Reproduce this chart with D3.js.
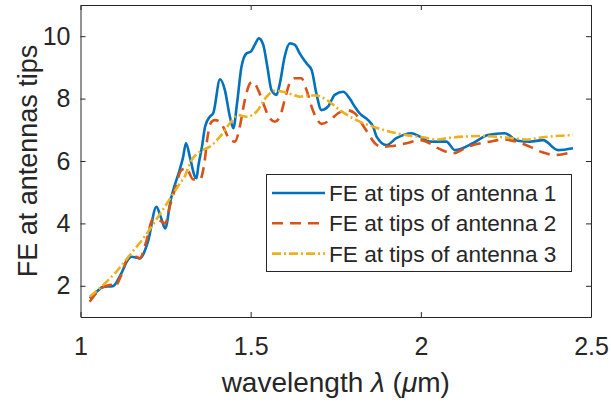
<!DOCTYPE html>
<html><head><meta charset="utf-8">
<script src="https://cdn.jsdelivr.net/npm/d3@7"></script>
<style>body{margin:0;background:#fff}svg{display:block}text{font-family:"Liberation Sans",Arial,sans-serif;fill:#262626}</style>
</head><body>
<script>
const seriesNames = ["FE at tips of antenna 1","FE at tips of antenna 2","FE at tips of antenna 3"];
const xTicks = [1, 1.5, 2, 2.5];
const yTicks = [2, 4, 6, 8, 10];
const x1 = [1.027,1.051,1.066,1.095,1.12,1.139,1.15,1.174,1.198,1.223,1.236,1.249,1.265,1.277,1.291,1.301,1.31,1.322,1.336,1.341,1.346,1.357,1.366,1.38,1.39,1.41,1.424,1.439,1.449,1.46,1.473,1.488,1.5,1.512,1.524,1.537,1.549,1.561,1.576,1.586,1.6,1.615,1.63,1.644,1.664,1.679,1.693,1.708,1.727,1.747,1.772,1.791,1.806,1.82,1.845,1.86,1.87,1.899,1.928,1.972,1.997,2.026,2.075,2.1,2.153,2.197,2.246,2.285,2.32,2.359,2.403,2.447];
const y1 = [1.6,1.84,1.97,1.99,2.4,2.83,2.93,2.88,3.41,4.53,4.2,3.84,4.75,5.23,5.7,6.1,6.57,6.1,5.5,5.45,5.82,6.46,7.1,7.42,7.53,8.62,8.28,7.42,7.05,7.85,9.02,9.45,9.5,9.72,9.93,9.72,9.02,8.28,8.12,8.5,9.35,9.77,9.72,9.45,9.13,8.92,8.17,7.63,7.74,8.12,8.22,8.0,7.74,7.53,7.31,7.1,6.78,6.51,6.73,6.89,6.78,6.62,6.62,6.35,6.57,6.83,6.89,6.65,6.62,6.67,6.35,6.41];
const x2 = [1.027,1.061,1.09,1.1,1.12,1.139,1.164,1.174,1.193,1.213,1.232,1.249,1.262,1.277,1.296,1.311,1.331,1.351,1.366,1.372,1.385,1.395,1.41,1.424,1.439,1.454,1.468,1.483,1.498,1.506,1.522,1.537,1.551,1.571,1.586,1.6,1.615,1.63,1.649,1.664,1.679,1.693,1.708,1.733,1.757,1.782,1.806,1.826,1.845,1.865,1.884,1.918,1.958,1.997,2.026,2.05,2.095,2.139,2.202,2.241,2.281,2.32,2.359,2.398,2.447];
const y2 = [1.49,1.92,2.03,1.97,2.35,2.88,2.93,2.88,3.41,4.16,4.1,4.0,4.53,5.07,5.7,5.77,5.41,5.41,6.1,6.67,7.26,7.31,7.26,6.99,6.67,6.62,7.1,7.96,8.49,8.54,8.28,7.85,7.47,7.26,7.42,7.96,8.5,8.65,8.65,8.28,7.74,7.37,7.19,7.31,7.53,7.63,7.53,7.21,6.89,6.57,6.46,6.48,6.57,6.67,6.57,6.41,6.25,6.46,6.62,6.69,6.62,6.46,6.27,6.19,6.3];
const x3 = [1.027,1.061,1.11,1.149,1.188,1.228,1.267,1.292,1.306,1.325,1.351,1.38,1.41,1.439,1.463,1.488,1.517,1.547,1.571,1.595,1.625,1.645,1.669,1.693,1.723,1.762,1.811,1.86,1.909,1.958,2.006,2.05,2.075,2.124,2.173,2.222,2.271,2.31,2.359,2.408,2.447];
const y3 = [1.65,1.97,2.51,3.04,3.57,4.21,4.86,5.28,5.5,6.0,6.3,6.46,6.78,7.21,7.47,7.42,7.58,8.06,8.25,8.22,8.12,8.06,8.1,8.1,7.96,7.63,7.31,7.1,6.94,6.83,6.76,6.69,6.73,6.78,6.8,6.78,6.73,6.69,6.76,6.81,6.83];
const colors = ["#0072BD","#D95319","#EDB120"];
const dashes = [null, "11,7", "9,3,2,3"];

const W = 611, H = 403;
const svg = d3.select("body").append("svg").attr("width", W).attr("height", H);
const x = d3.scaleLinear().domain([1, 2.5]).range([80.5, 591]);
const y = d3.scaleLinear().domain([1, 11]).range([317, 5]);

const gx = svg.append("g").attr("transform", "translate(0,317)")
  .call(d3.axisBottom(x).tickValues(xTicks).tickFormat(d3.format("")).tickSizeInner(-5).tickSizeOuter(0).tickPadding(20));
const gy = svg.append("g").attr("transform", "translate(80.5,0)")
  .call(d3.axisLeft(y).tickValues(yTicks).tickFormat(d3.format("")).tickSizeInner(-5).tickSizeOuter(0).tickPadding(10));
const gxt = svg.append("g").attr("transform", "translate(0,5)")
  .call(d3.axisTop(x).tickValues(xTicks).tickFormat("").tickSizeInner(-5).tickSizeOuter(0));
const gyr = svg.append("g").attr("transform", "translate(591,0)")
  .call(d3.axisRight(y).tickValues(yTicks).tickFormat("").tickSizeInner(-5).tickSizeOuter(0));
[gx, gy, gxt, gyr].forEach(g => {
  g.select(".domain").attr("stroke", "#262626");
  g.selectAll(".tick line").attr("stroke", "#262626");
  g.selectAll("text").attr("font-size", 25).attr("fill", "#262626").attr("font-family", '"Liberation Sans",Arial,sans-serif');
});

const line = d3.line().x(d => x(d[0])).y(d => y(d[1])).curve(d3.curveMonotoneX);
const data = [d3.zip(x1, y1), d3.zip(x2, y2), d3.zip(x3, y3)];
data.forEach((d, i) => {
  svg.append("path").datum(d).attr("d", line).attr("fill", "none")
    .attr("stroke", colors[i]).attr("stroke-width", 2.6)
    .attr("stroke-dasharray", dashes[i]);
});

// legend
const lg = svg.append("g");
lg.append("rect").attr("x", 266.5).attr("y", 174.5).attr("width", 305).attr("height", 97)
  .attr("fill", "#fff").attr("stroke", "#262626").attr("stroke-width", 1);
seriesNames.forEach((n, i) => {
  const yy = 193 + i * 30.3;
  lg.append("line").attr("x1", 272).attr("x2", 325).attr("y1", yy).attr("y2", yy)
    .attr("stroke", colors[i]).attr("stroke-width", 2.6).attr("stroke-dasharray", dashes[i]);
  lg.append("text").attr("x", 329).attr("y", yy).attr("dy", "0.35em").attr("font-size", 22.6).text(n);
});

// axis labels
const xl = svg.append("text").attr("x", 335.8).attr("y", 392).attr("text-anchor", "middle").attr("font-size", 28);
xl.append("tspan").text("wavelength ");
xl.append("tspan").attr("font-style", "italic").text("λ");
xl.append("tspan").text(" (");
xl.append("tspan").attr("font-style", "italic").text("μ");
xl.append("tspan").text("m)");
svg.append("text").attr("transform", "translate(37,161) rotate(-90)").attr("text-anchor", "middle")
  .attr("font-size", 27).text("FE at antennas tips");
</script>
</body></html>
